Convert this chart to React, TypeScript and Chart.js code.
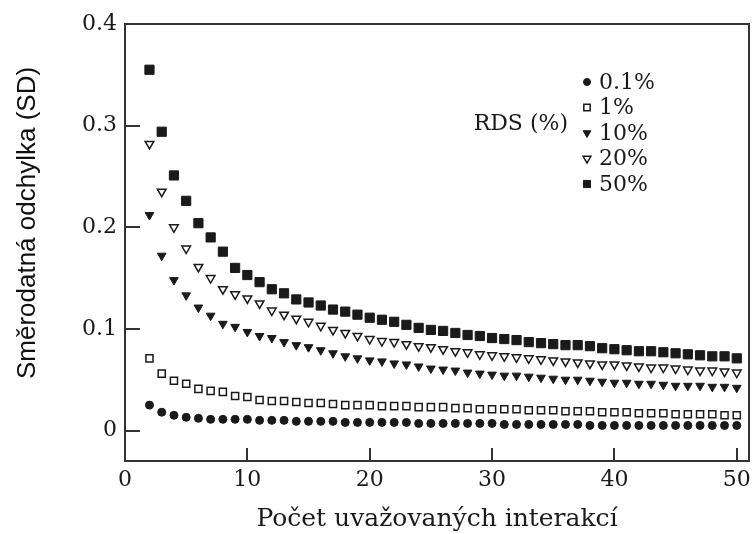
import React, { useEffect, useRef } from 'react';
import { Chart, registerables } from 'chart.js';
import { drawPoint } from 'chart.js/helpers';

Chart.register(...registerables);

const xValues = [2, 3, 4, 5, 6, 7, 8, 9, 10, 11, 12, 13, 14, 15, 16, 17, 18, 19, 20, 21, 22, 23, 24, 25, 26, 27, 28, 29, 30, 31, 32, 33, 34, 35, 36, 37, 38, 39, 40, 41, 42, 43, 44, 45, 46, 47, 48, 49, 50];

const rds01 = [0.025, 0.018, 0.015, 0.013, 0.012, 0.011, 0.011, 0.011, 0.011, 0.010, 0.010, 0.010, 0.009, 0.009, 0.009, 0.009, 0.008, 0.008, 0.008, 0.008, 0.008, 0.008, 0.007, 0.007, 0.007, 0.007, 0.007, 0.007, 0.007, 0.006, 0.006, 0.006, 0.006, 0.006, 0.006, 0.006, 0.005, 0.005, 0.005, 0.005, 0.005, 0.005, 0.005, 0.005, 0.005, 0.005, 0.005, 0.005, 0.005];
const rds1 = [0.071, 0.056, 0.049, 0.046, 0.041, 0.039, 0.038, 0.034, 0.033, 0.030, 0.029, 0.029, 0.028, 0.027, 0.027, 0.026, 0.025, 0.025, 0.025, 0.024, 0.024, 0.024, 0.023, 0.023, 0.023, 0.022, 0.022, 0.021, 0.021, 0.021, 0.021, 0.020, 0.020, 0.020, 0.019, 0.019, 0.019, 0.018, 0.018, 0.018, 0.017, 0.017, 0.017, 0.016, 0.016, 0.016, 0.016, 0.015, 0.015];
const rds10 = [0.212, 0.172, 0.148, 0.133, 0.121, 0.113, 0.105, 0.102, 0.097, 0.093, 0.091, 0.087, 0.084, 0.082, 0.079, 0.076, 0.073, 0.071, 0.069, 0.068, 0.066, 0.065, 0.063, 0.061, 0.060, 0.059, 0.057, 0.056, 0.055, 0.054, 0.054, 0.053, 0.052, 0.051, 0.050, 0.050, 0.049, 0.048, 0.047, 0.047, 0.046, 0.046, 0.045, 0.044, 0.044, 0.044, 0.043, 0.043, 0.042];
const rds20 = [0.282, 0.235, 0.200, 0.179, 0.161, 0.150, 0.139, 0.134, 0.130, 0.125, 0.118, 0.114, 0.110, 0.107, 0.103, 0.099, 0.096, 0.093, 0.090, 0.088, 0.087, 0.085, 0.083, 0.082, 0.080, 0.078, 0.077, 0.075, 0.074, 0.073, 0.072, 0.071, 0.070, 0.069, 0.068, 0.067, 0.066, 0.065, 0.065, 0.064, 0.063, 0.062, 0.062, 0.061, 0.060, 0.059, 0.059, 0.058, 0.057];
const rds50 = [0.355, 0.294, 0.251, 0.226, 0.204, 0.190, 0.176, 0.160, 0.153, 0.146, 0.139, 0.135, 0.129, 0.126, 0.123, 0.119, 0.117, 0.114, 0.111, 0.109, 0.107, 0.104, 0.101, 0.099, 0.098, 0.096, 0.094, 0.093, 0.091, 0.090, 0.089, 0.087, 0.086, 0.085, 0.084, 0.084, 0.083, 0.081, 0.080, 0.079, 0.078, 0.078, 0.077, 0.076, 0.075, 0.074, 0.073, 0.073, 0.071];

const seriesLabels = ['0.1%', '1%', '10%', '20%', '50%'];
const legendTitle = 'RDS (%)';
const xTicks = [0, 10, 20, 30, 40, 50];
const yTicks = [0, 0.1, 0.2, 0.3, 0.4];
const yTickLabels = ['0', '0.1', '0.2', '0.3', '0.4'];
const xTitle = 'Počet uvažovaných interakcí';
const yTitle = 'Směrodatná odchylka (SD)';

const INK = '#1a1a1a';
const SERIF = '"DejaVu Serif", serif';

const toPoints = (arr: number[]) => xValues.map((x, i) => ({ x, y: arr[i] }));

const framePlugin = {
  id: 'frame',
  afterDatasetsDraw(chart: any) {
    const { ctx, chartArea } = chart;
    const { left, right, top, bottom } = chartArea;
    const xs = chart.scales.x;
    const ys = chart.scales.y;
    ctx.save();
    ctx.strokeStyle = '#333';
    ctx.lineWidth = 2;
    ctx.strokeRect(left, top, right - left, bottom - top);
    ctx.beginPath();
    xTicks.forEach((v) => {
      const px = Math.round(xs.getPixelForValue(v));
      if (px <= left + 1) return;
      ctx.moveTo(px, bottom);
      ctx.lineTo(px, bottom - 13);
    });
    yTicks.forEach((v) => {
      const py = Math.round(ys.getPixelForValue(v));
      if (py <= top + 1) return;
      ctx.moveTo(left, py);
      ctx.lineTo(left + 15, py);
    });
    ctx.stroke();
    ctx.restore();
  },
  afterDraw(chart: any) {
    const { ctx } = chart;
    ctx.save();
    ctx.translate(28, 223);
    ctx.rotate(-Math.PI / 2);
    ctx.font = '26px "Liberation Sans", Arial, sans-serif';
    ctx.fillStyle = '#111';
    ctx.textAlign = 'center';
    ctx.textBaseline = 'middle';
    ctx.fillText(yTitle, 0, 0);
    ctx.restore();

    ctx.save();
    ctx.font = '22px ' + SERIF;
    ctx.fillStyle = INK;
    ctx.textBaseline = 'middle';
    ctx.textAlign = 'right';
    ctx.fillText(legendTitle, 568, 124);
    ctx.textAlign = 'left';
    chart.data.datasets.forEach((ds: any, i: number) => {
      const y = 82 + i * 25.5;
      ctx.fillStyle = ds.backgroundColor;
      ctx.strokeStyle = ds.borderColor;
      ctx.lineWidth = ds.borderWidth;
      drawPoint(ctx, { pointStyle: ds.pointStyle, rotation: ds.rotation || 0, radius: ds.legendRadius, borderWidth: ds.borderWidth }, 587, y);
      ctx.fillStyle = INK;
      ctx.fillText(seriesLabels[i], 599, y + 1);
    });
    ctx.restore();
  },
};

export default function App() {
  const ref = useRef<HTMLCanvasElement | null>(null);
  useEffect(() => {
    document.body.style.margin = '0';
    if (!ref.current) return;
    const tickFont = { family: SERIF, size: 22 };
    const chart = new Chart(ref.current, {
      type: 'scatter',
      data: {
        datasets: [
          { label: seriesLabels[0], data: toPoints(rds01), pointStyle: 'circle', pointRadius: 4, backgroundColor: INK, borderColor: INK, borderWidth: 1, legendRadius: 3.5 } as any,
          { label: seriesLabels[1], data: toPoints(rds1), pointStyle: 'rect', pointRadius: 5, backgroundColor: '#fff', borderColor: INK, borderWidth: 1.5, legendRadius: 4.5 } as any,
          { label: seriesLabels[2], data: toPoints(rds10), pointStyle: 'triangle', rotation: 180, pointRotation: 180, pointRadius: 5, backgroundColor: INK, borderColor: INK, borderWidth: 1, legendRadius: 4.5 } as any,
          { label: seriesLabels[3], data: toPoints(rds20), pointStyle: 'triangle', rotation: 180, pointRotation: 180, pointRadius: 5, backgroundColor: '#fff', borderColor: INK, borderWidth: 1.5, legendRadius: 4.5 } as any,
          { label: seriesLabels[4], data: toPoints(rds50), pointStyle: 'rect', pointRadius: 6.5, backgroundColor: INK, borderColor: INK, borderWidth: 1, legendRadius: 5 } as any,
        ],
      },
      options: {
        animation: false,
        responsive: false,
        layout: { autoPadding: false, padding: { top: 24, right: 3, left: 0, bottom: 0 } },
        plugins: { legend: { display: false }, tooltip: { enabled: false } },
        scales: {
          x: {
            type: 'linear',
            min: 0,
            max: 51,
            afterBuildTicks: (s: any) => { s.ticks = xTicks.map((v) => ({ value: v })); },
            afterFit: (s: any) => { s.height = 73; s.paddingLeft = 0; s.paddingRight = 0; },
            grid: { display: false, drawTicks: false },
            border: { display: false },
            ticks: { font: tickFont, color: INK, padding: 6, maxRotation: 0, callback: (v: any) => String(v) },
            title: { display: true, text: xTitle, font: { family: SERIF, size: 25 }, color: INK, padding: { top: 0, bottom: 0 } },
          },
          y: {
            type: 'linear',
            min: -0.03,
            max: 0.4,
            afterBuildTicks: (s: any) => { s.ticks = yTicks.map((v) => ({ value: v })); },
            afterFit: (s: any) => { s.width = 125; s.paddingTop = 0; s.paddingBottom = 0; },
            grid: { display: false, drawTicks: false },
            border: { display: false },
            ticks: {
              font: tickFont,
              color: INK,
              padding: 8,
              callback: (v: any) => {
                const idx = yTicks.findIndex((t) => Math.abs(t - v) < 1e-9);
                return idx >= 0 ? yTickLabels[idx] : '';
              },
            },
          },
        },
      },
      plugins: [framePlugin],
    });
    return () => chart.destroy();
  }, []);
  return <canvas ref={ref} width={752} height={534} style={{ display: 'block' }} />;
}
